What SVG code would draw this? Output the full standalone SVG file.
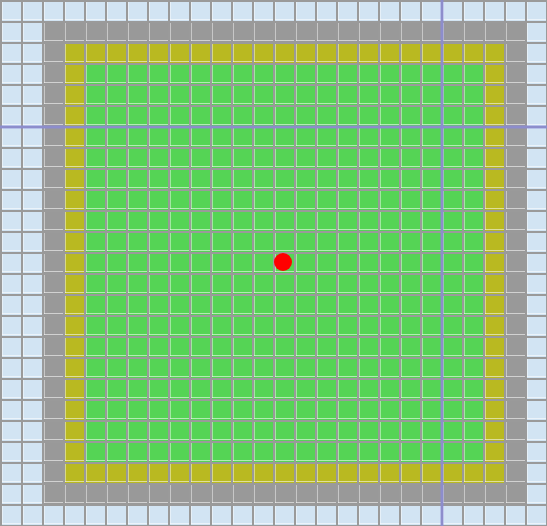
<svg xmlns="http://www.w3.org/2000/svg" width="547" height="526" viewBox="0 0 547 526">
<defs>
<pattern id="grid" x="0" y="0" width="21" height="21" patternUnits="userSpaceOnUse">
<rect x="2" y="19" width="19" height="1" fill="#ffffff" fill-opacity="0.55"/>
<rect x="2" y="2" width="1" height="18" fill="#ffffff" fill-opacity="0.45"/>
<rect x="0" y="0" width="21" height="2" fill="#9a9a9a"/>
<rect x="0" y="0" width="2" height="21" fill="#9a9a9a"/>
</pattern>
<style>
.guide{stroke:#8a8ad8;stroke-width:3;stroke-opacity:0.8}
</style>
</defs>
<rect x="0" y="0" width="547" height="526" fill="#d2e4f3"/>
<rect x="42" y="21" width="483" height="483" fill="#999999"/>
<rect x="63" y="42" width="441" height="441" fill="#b9b921"/>
<rect x="84" y="63" width="399" height="399" fill="#55d455"/>
<rect x="0" y="0" width="547" height="526" fill="url(#grid)"/>
<line class="guide" x1="0" y1="127" x2="547" y2="127"/>
<line class="guide" x1="442" y1="0" x2="442" y2="526"/>
<circle cx="283" cy="262" r="9" fill="#ff0000"/>
</svg>
